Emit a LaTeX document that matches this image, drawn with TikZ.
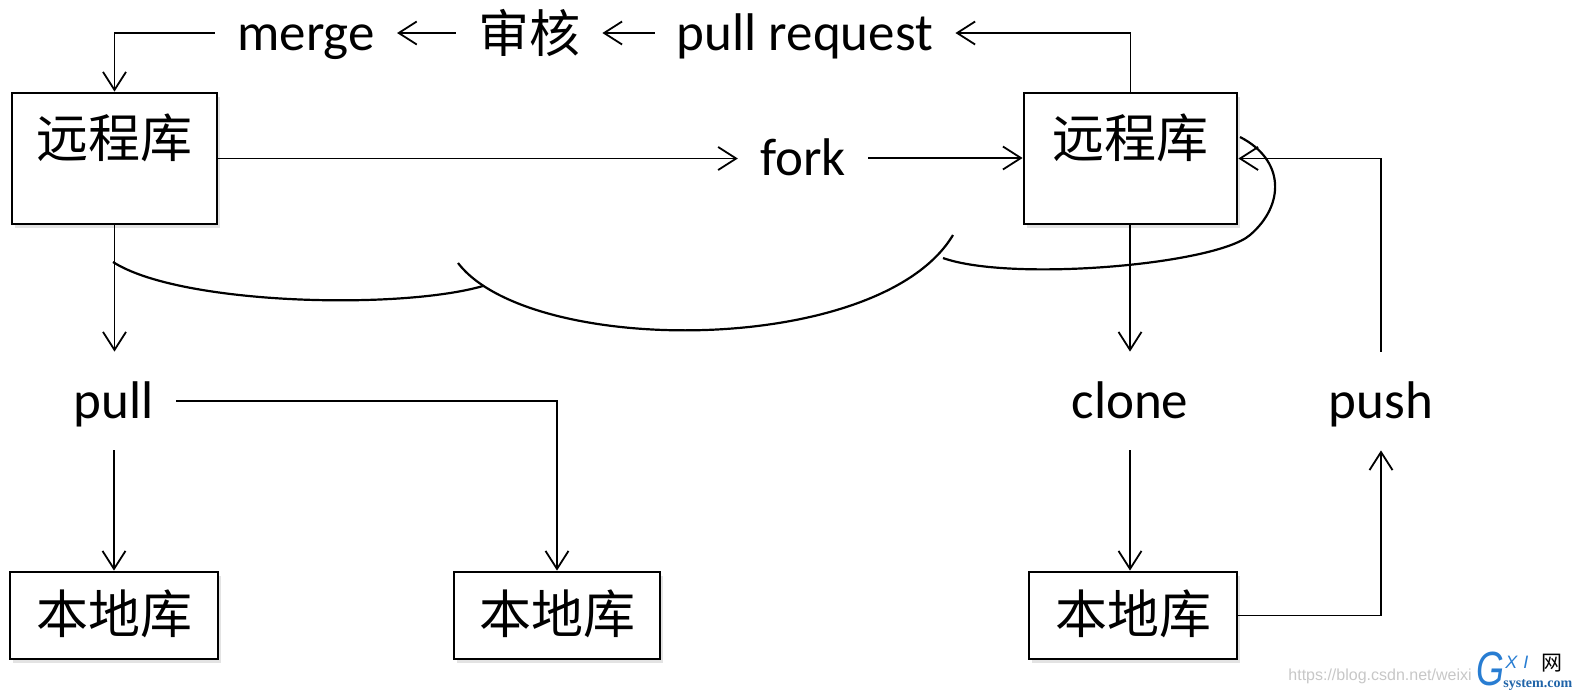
\documentclass[tikz,border=0pt]{standalone}
\usepackage{fontspec}
\setmainfont{Carlito}
\newfontfamily\cjk{Noto Sans CJK SC}
\newfontfamily\wmfont{Liberation Sans}
\newfontfamily\logofont{Liberation Serif}
\usetikzlibrary{arrows.meta,calc,shadows}
\definecolor{logoblue}{RGB}{40,125,210}
\begin{document}
\begin{tikzpicture}[x=0.5pt,y=-0.5pt,
  conn/.style={line width=0.9pt,-{Straight Barb[length=9pt,width=11.5pt,line width=0.9pt]}},
  curveline/.style={line width=1.1pt},
  boxbase/.style={draw,line width=1.4pt,inner sep=0pt,fill=white,
    font=\cjk\fontsize{26pt}{30pt}\selectfont,
    drop shadow={shadow xshift=1.5pt,shadow yshift=-2pt,opacity=0.22}},
  rbox/.style={boxbase,text height=32pt,text depth=33.5pt},
  lbox/.style={boxbase,text height=30.5pt,text depth=13pt},
  lbl/.style={font=\fontsize{26.5pt}{30pt}\selectfont,inner xsep=11pt,inner ysep=0pt,
    text height=17pt,text depth=0pt},
  vlbl/.style={lbl,inner ysep=16pt},
  cjklbl/.style={font=\cjk\fontsize{25.5pt}{30pt}\selectfont,inner xsep=11pt,inner ysep=0pt}
]
\useasboundingbox (0,0) rectangle (1573,692);

% boxes
\node[rbox,minimum width=102.5pt,anchor=base] (L) at (114.5,157) {远程库};
\node[rbox,minimum width=106.5pt,anchor=base] (R) at (1130.5,157) {远程库};
\node[lbox,minimum width=104pt,anchor=base] (LL) at (114,633) {本地库};
\node[lbox,minimum width=103pt,anchor=base] (LM) at (557,633) {本地库};
\node[lbox,minimum width=104pt,anchor=base] (LR) at (1133,633) {本地库};

% labels
\node[lbl,anchor=base] (merge) at (306,50) {merge};
\node[cjklbl] (shen) at (529,33) {审核};
\node[lbl,anchor=base] (preq) at (805,50) {pull request};
\node[lbl,anchor=base] (fork) at (803,175) {fork};
\node[vlbl,anchor=base] (pull) at (114,418) {pull};
\node[vlbl,anchor=base] (clone) at (1130,418) {clone};
\node[vlbl,anchor=base] (push) at (1381,418) {push};

% connectors
\draw[conn] (R.north) |- (preq.east);
\draw[conn] (preq.west) -- (shen.east);
\draw[conn] (shen.west) -- (merge.east);
\draw[conn] (merge.west) -| (L.north);
\draw[conn] (L.east) -- (L.east -| fork.west);
\draw[conn] (fork.east) -- (fork.east -| R.west);
\draw[conn] (L.south) -- (L.south |- pull.north);
\draw[conn] (pull.south) -- (pull.south |- LL.north);
\draw[conn] (pull.east) -| (LM.north);
\draw[conn] (clone.south |- R.south) -- (clone.north);
\draw[conn] (clone.south) -- (clone.south |- LR.north);
\draw[conn] (LR.east) -| (push.south);
\draw[conn] (push.north) |- (R.east);

% free-hand curve
\draw[curveline] (113,262) .. controls (180,305) and (400,310) .. (483,286);
\draw[curveline] (458,263) .. controls (530,357) and (880,357) .. (953,235);
\draw[curveline] (943,258) .. controls (1010,282) and (1215,265) .. (1250,235)
  .. controls (1285,205) and (1285,160) .. (1240,137);

% watermark
\node[font=\wmfont\fontsize{8pt}{9pt}\selectfont,text=black!22,anchor=base east,inner sep=0pt] (wm) at (1472,680) {https://blog.csdn.net/weixi};
\node[font=\wmfont\itshape\fontsize{24pt}{24pt}\selectfont,text=logoblue,anchor=base,inner sep=0pt,xscale=0.75,transform shape] (lg) at (1490,685) {G};
\node[font=\wmfont\itshape\fontsize{9pt}{9pt}\selectfont,text=logoblue,anchor=base west,inner sep=0pt] (lx) at (1505,668) {X\,\,I};
\node[font=\cjk\fontsize{10.5pt}{11pt}\selectfont,anchor=base west,inner sep=0pt] (lw) at (1541,670) {网};
\node[font=\logofont\bfseries\fontsize{7pt}{7pt}\selectfont,text=logoblue!80!black,anchor=base west,inner sep=0pt] (ls) at (1503,687) {system.com};
\end{tikzpicture}
\end{document}
